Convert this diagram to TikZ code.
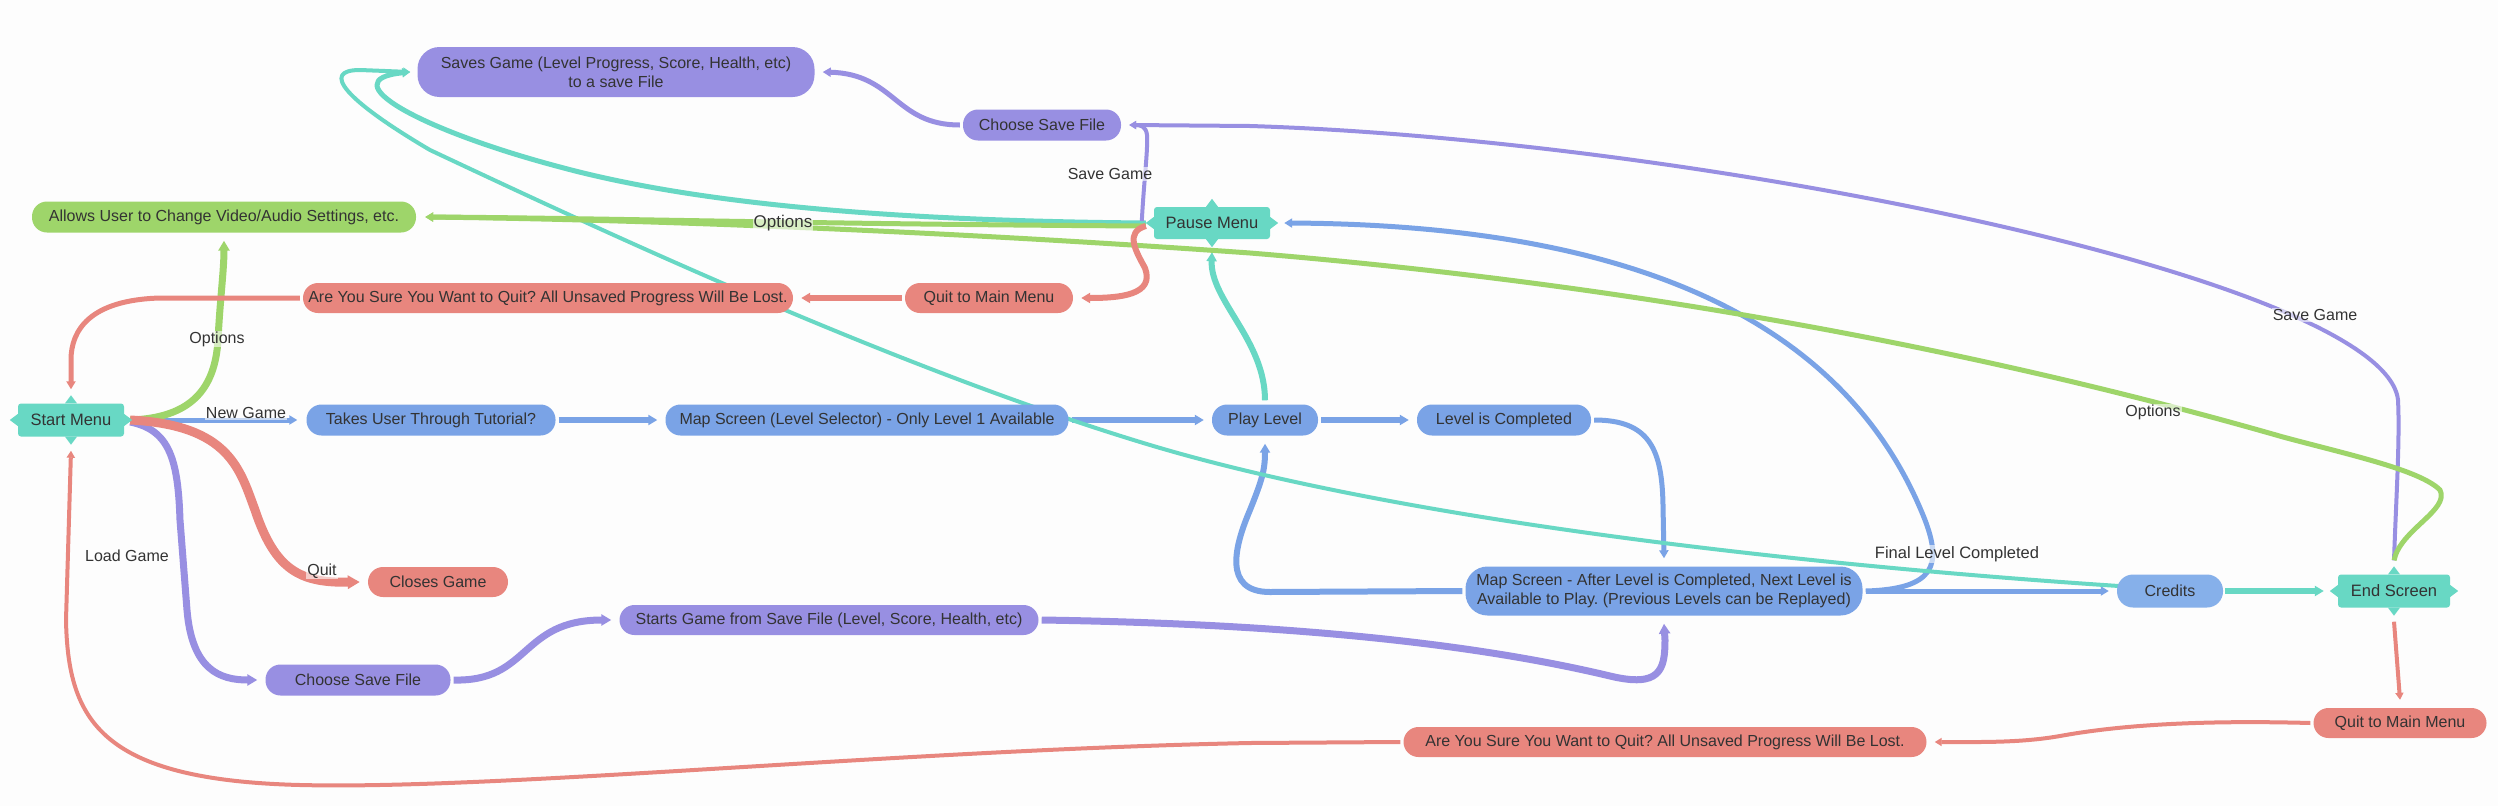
\documentclass[tikz,border=0pt]{standalone}
\usepackage{fontspec}
\setmainfont{Liberation Sans}
\frenchspacing
\usetikzlibrary{arrows.meta}
\pgfdeclarelayer{bgl}
\pgfdeclarelayer{edges}
\pgfsetlayers{bgl,edges,main}
\definecolor{tealC}{RGB}{104,216,196}
\definecolor{purpC}{RGB}{152,143,226}
\definecolor{greenC}{RGB}{158,213,106}
\definecolor{redC}{RGB}{232,134,126}
\definecolor{blueC}{RGB}{122,163,230}
\definecolor{credC}{RGB}{134,176,234}
\definecolor{txt}{RGB}{51,51,51}
\definecolor{bgC}{RGB}{253,253,253}
\begin{document}
\begin{tikzpicture}[x=1pt,y=-1pt,
  pill/.style={fill=#1, draw=none, text=txt, font=\fontsize{16}{19}\selectfont, align=center, inner sep=0pt, rounded corners=15pt},
  tbox/.style={fill=tealC, draw=none, text=txt, font=\fontsize{16.5}{19}\selectfont, align=center, inner sep=0pt, rounded corners=3pt},
  lab/.style={text=txt, font=\fontsize{16}{18}\selectfont, fill=bgC, fill opacity=0.6, text opacity=1, inner sep=1pt},
  arr/.style={-{Triangle[length=3pt 1, width=4pt 1]}},
  ln/.style={draw=#1, line join=round}
]
\begin{pgfonlayer}{bgl}
\fill[bgC] (0,0) rectangle (2498,806);
\end{pgfonlayer}
\useasboundingbox (0,0) rectangle (2498,806);

% nodes
\node[pill=purpC, minimum width=397pt, minimum height=50pt, rounded corners=22pt] (saves) at (616,72) {Saves Game (Level Progress, Score, Health, etc)\\to a save File};
\node[pill=purpC, minimum width=158pt, minimum height=31pt] (chooseT) at (1042,125) {Choose Save File};
\node[pill=greenC, minimum width=384pt, minimum height=31pt] (allows) at (224,217) {Allows User to Change Video/Audio Settings, etc.};
\node[tbox, minimum width=116pt, minimum height=32pt] (pause) at (1212,223) {Pause Menu};
\node[pill=redC, minimum width=490pt, minimum height=30pt] (sureT) at (548,298) {Are You Sure You Want to Quit? All Unsaved Progress Will Be Lost.};
\node[pill=redC, minimum width=168pt, minimum height=30pt] (quitT) at (989,298) {Quit to Main Menu};
\node[tbox, minimum width=106pt, minimum height=33pt] (start) at (71,420) {Start Menu};
\node[pill=blueC, minimum width=249pt, minimum height=31pt] (tut) at (431,420) {Takes User Through Tutorial?};
\node[pill=blueC, minimum width=403pt, minimum height=31pt] (mapA) at (867,420) {Map Screen (Level Selector) - Only Level 1 Available};
\node[pill=blueC, minimum width=106pt, minimum height=31pt] (play) at (1265,420) {Play Level};
\node[pill=blueC, minimum width=174pt, minimum height=31pt] (done) at (1504,420) {Level is Completed};
\node[pill=redC, minimum width=140pt, minimum height=30pt] (closes) at (438,582) {Closes Game};
\node[pill=purpC, minimum width=185pt, minimum height=31pt] (chooseB) at (358,680) {Choose Save File};
\node[pill=purpC, minimum width=419pt, minimum height=30pt] (starts) at (829,620) {Starts Game from Save File (Level, Score, Health, etc)};
\node[pill=blueC, minimum width=397pt, minimum height=49pt, rounded corners=22pt] (mapB) at (1664,591) {Map Screen - After Level is Completed, Next Level is\\Available to Play. (Previous Levels can be Replayed)};
\node[pill=credC, minimum width=106pt, minimum height=33pt, rounded corners=16pt] (credits) at (2170,591) {Credits};
\node[tbox, minimum width=112pt, minimum height=33pt] (endS) at (2394,591) {End Screen};
\node[pill=redC, minimum width=173pt, minimum height=30pt] (quitB) at (2400,723) {Quit to Main Menu};
\node[pill=redC, minimum width=523pt, minimum height=30pt] (sureB) at (1665,742) {Are You Sure You Want to Quit? All Unsaved Progress Will Be Lost.};

% star tips of the teal nodes
\foreach \n in {pause,start,endS}{
  \fill[tealC] ([xshift=-6pt]\n.north) -- ([yshift=8pt]\n.north) -- ([xshift=6pt]\n.north) -- cycle;
  \fill[tealC] ([xshift=-6pt]\n.south) -- ([yshift=-8pt]\n.south) -- ([xshift=6pt]\n.south) -- cycle;
  \fill[tealC] ([yshift=-6pt]\n.west) -- ([xshift=-8pt]\n.west) -- ([yshift=6pt]\n.west) -- cycle;
  \fill[tealC] ([yshift=-6pt]\n.east) -- ([xshift=8pt]\n.east) -- ([yshift=6pt]\n.east) -- cycle;
}

% edge labels
\node[lab] (lNew) at (246,413) {New Game};
\node[lab] (lOptA) at (217,339) {Options};
\node[lab, font=\fontsize{17}{19}\selectfont] (lOptB) at (783,223) {Options};
\node[lab] (lOptC) at (2153,412) {Options};
\node[lab] (lSaveA) at (1110,174) {Save Game};
\node[lab] (lSaveB) at (2315,315) {Save Game};
\node[lab] (lQuit) at (322,571) {Quit};
\node[lab] (lLoad) at (127,556) {Load Game};
\node[lab, font=\fontsize{16.5}{19}\selectfont] (lFinal) at (1957,554) {Final Level Completed};

\begin{pgfonlayer}{edges}
% blue main flow
\draw[ln=blueC, line width=5pt, arr] ([xshift=6pt]start.east) -- ([xshift=-9pt]tut.west);
\draw[ln=blueC, line width=6pt, arr] ([xshift=3pt]tut.east) -- ([xshift=-8pt]mapA.west);
\draw[ln=blueC, line width=6pt, arr] ([xshift=3pt]mapA.east) -- ([xshift=-8pt]play.west);
\draw[ln=blueC, line width=6pt, arr] ([xshift=3pt]play.east) -- ([xshift=-8pt]done.west);
\draw[ln=blueC, line width=5pt, arr] ([xshift=3pt]done.east) .. controls (1650,420) and (1662,450) .. (1663,505) -- ([yshift=8pt]mapB.north);
\draw[ln=blueC, line width=6pt, arr] ([xshift=-3pt]mapB.west) -- (1270,592) .. controls (1222,592) and (1235,545) .. (1250,510) .. controls (1262,480) and (1265,470) .. ([yshift=-8pt]play.south);
\draw[ln=blueC, line width=5pt, arr] ([xshift=3pt]mapB.east) .. controls (1935,589) and (1942,565) .. (1925,520) .. controls (1850,330) and (1650,225) .. ([xshift=14pt]pause.east);
\draw[ln=blueC, line width=5pt, arr] ([xshift=3pt]mapB.east) -- ([xshift=-8pt]credits.west);
% teal
\draw[ln=tealC, line width=6pt, arr] ([xshift=2pt]credits.east) -- ([xshift=-14pt]endS.west);
\draw[ln=tealC, line width=4pt, arr] ([xshift=2pt,yshift=5pt]credits.west) .. controls (1800,565) and (1400,520) .. (1150,445) .. controls (900,370) and (600,230) .. (430,150) .. controls (345,100) and (320,70) .. (360,70) -- ([xshift=-7pt]saves.west);
\draw[ln=tealC, line width=5pt, arr] ([xshift=-8pt]pause.west) .. controls (900,221) and (700,205) .. (560,167) .. controls (420,130) and (330,80) .. ([xshift=-7pt]saves.west);
\draw[ln=tealC, line width=6pt, arr] ([yshift=4pt]play.north) .. controls (1265,340) and (1210,300) .. ([yshift=-13pt]pause.south);
% purple
\draw[ln=purpC, line width=5pt, arr] ([xshift=-3pt]chooseT.west) .. controls (895,125) and (895,74) .. ([xshift=8pt]saves.east);
\draw[ln=purpC, line width=4pt, arr] ([xshift=-12pt,yshift=2pt]pause.west) .. controls (1144,180) and (1148,150) .. (1147,135) .. controls (1146,126) and (1140,125) .. ([xshift=8pt]chooseT.east);
\draw[ln=purpC, line width=4pt, arr] ([yshift=14pt]endS.north) .. controls (2396,500) and (2400,440) .. (2398,400) .. controls (2385,280) and (1700,140) .. (1250,126) -- ([xshift=8pt]chooseT.east);
\draw[ln=purpC, line width=7pt, arr] ([xshift=6pt,yshift=-2pt]start.east) .. controls (170,430) and (178,460) .. (180,520) -- (187,610) .. controls (192,670) and (220,680) .. ([xshift=-8pt]chooseB.west);
\draw[ln=purpC, line width=7pt, arr] ([xshift=3pt]chooseB.east) .. controls (530,682) and (520,620) .. ([xshift=-8pt]starts.west);
\draw[ln=purpC, line width=7pt, arr] ([xshift=3pt]starts.east) .. controls (1300,624) and (1480,645) .. (1610,676) .. controls (1660,688) and (1665,670) .. (1665,640) -- ([yshift=-8pt]mapB.south);
% green
\draw[ln=greenC, line width=5pt, arr] ([xshift=-8pt,yshift=-3pt]pause.west) .. controls (800,224) and (600,218) .. ([xshift=9pt]allows.east);
\draw[ln=greenC, line width=7pt, arr] ([xshift=6pt]start.east) .. controls (190,418) and (215,390) .. (218,340) .. controls (220,300) and (224,270) .. ([yshift=-8pt]allows.south);
\draw[ln=greenC, line width=5pt, arr] ([yshift=14pt]endS.north) .. controls (2400,530) and (2450,510) .. (2440,490) .. controls (2420,470) and (2350,455) .. (2283,437) .. controls (2050,370) and (1700,290) .. (1250,253) .. controls (900,228) and (600,219) .. ([xshift=9pt]allows.east);
% red
\draw[ln=redC, line width=9pt, arr] ([xshift=6pt]start.east) .. controls (230,425) and (240,470) .. (255,510) .. controls (275,570) and (300,583) .. ([xshift=-8pt]closes.west);
\draw[ln=redC, line width=6pt, arr] ([xshift=-3pt]quitT.west) -- ([xshift=8pt]sureT.east);
\draw[ln=redC, line width=6pt, arr] ([xshift=-8pt,yshift=-3pt]pause.west) .. controls (1125,232) and (1135,250) .. (1145,268) .. controls (1155,295) and (1120,298) .. ([xshift=8pt]quitT.east);
\draw[ln=redC, line width=5pt, arr] ([xshift=-3pt]sureT.west) -- (160,298) .. controls (90,300) and (71,330) .. (71,360) -- ([yshift=14pt]start.north);
\draw[ln=redC, line width=4pt, arr] ([yshift=-14pt]endS.south) -- ([yshift=8pt]quitB.north);
\draw[ln=redC, line width=4pt, arr] ([xshift=-3pt]quitB.west) .. controls (2200,720) and (2120,725) .. (2060,736) .. controls (2020,743) and (1980,742) .. ([xshift=8pt]sureB.east);
\draw[ln=redC, line width=4pt, arr] ([xshift=-3pt]sureB.west) -- (1250,743) .. controls (900,750) and (500,790) .. (300,785) .. controls (100,780) and (68,720) .. (66,620) -- ([yshift=-14pt]start.south);
\end{pgfonlayer}
\end{tikzpicture}
\end{document}
